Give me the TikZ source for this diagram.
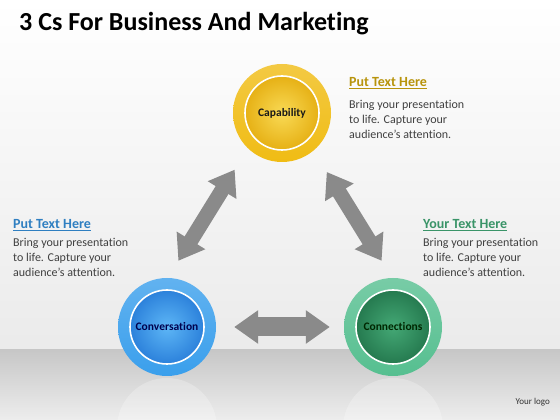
\documentclass[tikz,border=0pt]{standalone}
\usepackage{fontspec}
\setmainfont{Carlito}[Ligatures=NoCommon]
\usetikzlibrary{arrows.meta,positioning}

\definecolor{CapGold}{HTML}{F0BC14}
\definecolor{CapLight}{HTML}{F9DA55}
\definecolor{CapDark}{HTML}{E0A300}
\definecolor{ConvBlue}{HTML}{3A9FEC}
\definecolor{ConvLight}{HTML}{5DB6F6}
\definecolor{ConvDark}{HTML}{1C70D2}
\definecolor{ConnGreen}{HTML}{56BF90}
\definecolor{ConnLight}{HTML}{44A875}
\definecolor{ConnDark}{HTML}{1B6B43}
\definecolor{ArrowGray}{HTML}{8A8A8A}
\definecolor{BodyGray}{HTML}{404040}
\definecolor{HeadGold}{HTML}{B8940C}
\definecolor{HeadBlue}{HTML}{2F7FC1}
\definecolor{HeadGreen}{HTML}{3A9468}

\begin{document}
\begin{tikzpicture}
    [
        x=1pt,y=1pt,
        Ring/.style n args={3}{circle,minimum size=98pt,inner sep=0pt,
            top color=#1!80!white,bottom color=#1,
            font=\fontsize{11.5}{13}\selectfont\bfseries,
            path picture={\shadedraw[inner color=#2,outer color=#3,draw=white,line width=1.6pt]
                (path picture bounding box.center) circle (37pt);}},
        Fat/.style={line width=15pt,draw=ArrowGray,
            {Triangle[length=24pt 0,width=32pt 0]}-{Triangle[length=24pt 0,width=32pt 0]}},
        Heading/.style={anchor=base west,inner sep=0pt,font=\fontsize{14}{16}\selectfont\bfseries},
        Body/.style={anchor=north west,inner sep=0pt,align=left,
            text=BodyGray,font=\fontsize{12}{15.2}\selectfont}
    ]
    \useasboundingbox (0,0) rectangle (560,420);

    % background and floor
    \shade[top color=white,bottom color=black!8] (0,70) rectangle (560,420);
    \shade[top color=black!22,bottom color=black!7] (0,0) rectangle (560,70);
    \begin{scope}
        \clip (0,0) rectangle (560,70);
        \fill[white,opacity=0.25] (167,-8) circle (50);
        \fill[white,opacity=0.25] (393,-8) circle (50);
    \end{scope}

    \node[anchor=base west,inner sep=0pt,font=\fontsize{26}{30}\selectfont\bfseries] (title) at (19,389) {3 Cs For Business And Marketing};

    % the three circles
    \node[Ring={CapGold}{CapLight}{CapDark},text=black!90] (cap) at (282,307) {Capability};
    \node[Ring={ConvBlue}{ConvLight}{ConvDark},text=black!70!blue] (conv) at (167,93) {Conversation};
    \node[Ring={ConnGreen}{ConnLight}{ConnDark},text=black!85!green] (conn) at (393,93) {Connections};

    % arrows
    \draw[Fat,shorten <=25pt,shorten >=20pt] (cap.226) -- (conv.89);
    \draw[Fat,shorten <=25pt,shorten >=20pt] (cap.310) -- (conn.91);
    \draw[Fat,line width=19pt,shorten <=18pt,shorten >=14pt] (conv.east) -- (conn.west);

    % text blocks
    \node[Heading,text=HeadGold] (headT) at (349,333) {\underline{Put Text Here}};
    \node[Body] (bodyT) at (349,320) {Bring your presentation\\ to life. Capture your\\ audience’s attention.};

    \node[Heading,text=HeadBlue] (headL) at (13,191) {\underline{Put Text Here}};
    \node[Body] (bodyL) at (13,182) {Bring your presentation\\ to life. Capture your\\ audience’s attention.};

    \node[Heading,text=HeadGreen] (headR) at (423,191) {\underline{Your Text Here}};
    \node[Body] (bodyR) at (423,182) {Bring your presentation\\ to life. Capture your\\ audience’s attention.};

    \node[anchor=base east,inner sep=0pt,text=black!80,font=\fontsize{9}{11}\selectfont] (logo) at (550,15) {Your logo};
\end{tikzpicture}
\end{document}
